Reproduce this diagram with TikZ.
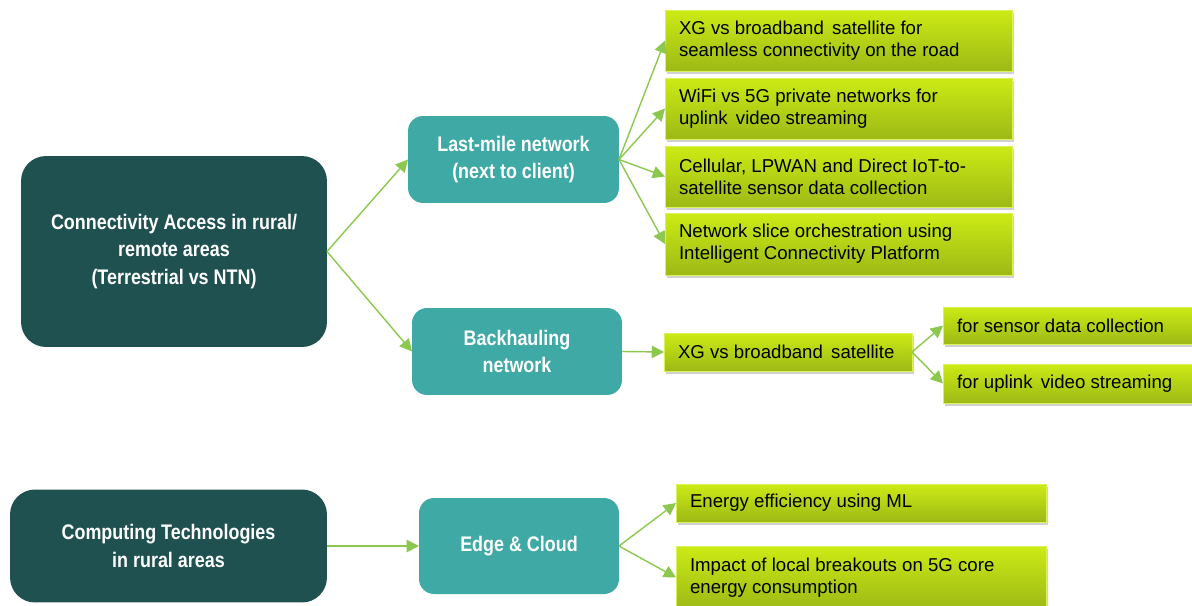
\documentclass[tikz,border=0pt]{standalone}
\usepackage{fontspec}
\setmainfont{Liberation Sans}
\newfontfamily\condfont[FakeStretch=0.85]{Liberation Sans}
\usetikzlibrary{arrows.meta,shadows}

\definecolor{darkteal}{HTML}{1F5150}
\definecolor{midteal}{HTML}{3FA9A6}
\definecolor{limetop}{HTML}{CCEB14}
\definecolor{limebot}{HTML}{9DB916}
\definecolor{arrowgreen}{HTML}{8DC84E}

\begin{document}
\begin{tikzpicture}[x=0.02cm, y=-0.02cm,
  every node/.style={outer sep=0pt},
  topic/.style={fill=darkteal, text=white, rounded corners=0.5cm, align=center,
    font=\condfont\bfseries\fontsize{12}{15.6}\selectfont},
  area/.style={fill=midteal, text=white, rounded corners=0.3cm, align=center,
    font=\condfont\bfseries\fontsize{12}{15.6}\selectfont},
  item/.style={top color=limetop, bottom color=limebot, draw=limetop!70!white, line width=0.4pt,
    drop shadow={shadow xshift=1pt, shadow yshift=-1.5pt, opacity=0.3, fill=black!60},
    align=flush left, inner xsep=0.28cm, inner ysep=0pt, anchor=center,
    font=\fontsize{10.6}{12.5}\selectfont},
  link/.style={draw=arrowgreen, line width=0.8pt, -{Triangle[length=7pt, width=7pt]}}
]
\useasboundingbox (0,0) rectangle (1192,605);

% left column
\node[topic, minimum width=6.12cm, minimum height=3.82cm] (conn) at (174,251.5)
  {Connectivity Access in rural/\\remote areas\\(Terrestrial vs NTN)};
\node[topic, minimum width=6.34cm, minimum height=2.26cm] (comp) at (168.5,546)
  {Computing Technologies\\in rural areas};

% middle column
\node[area, minimum width=4.22cm, minimum height=1.74cm] (lastmile) at (513.5,159.5)
  {Last-mile network\\(next to client)};
\node[area, minimum width=4.2cm, minimum height=1.74cm] (backhaul) at (517,351.5)
  {Backhauling\\network};
\node[area, minimum width=4cm, minimum height=1.92cm] (edgecloud) at (519,546)
  {Edge \& Cloud};

% green items
\node[item, text width=6.38cm, minimum height=1.22cm] (road) at (838.5,40.5)
  {XG vs broadband\, satellite for\\seamless connectivity on the road};
\node[item, text width=6.38cm, minimum height=1.22cm] (wifi) at (838.5,108.5)
  {WiFi vs 5G private networks for\\uplink\, video streaming};
\node[item, text width=6.38cm, minimum height=1.22cm] (lpwan) at (838.5,176.5)
  {Cellular, LPWAN and Direct IoT-to-\\satellite sensor data collection};
\node[item, text width=6.38cm, minimum height=1.24cm] (slice) at (838.5,244)
  {Network slice orchestration using\\Intelligent Connectivity Platform};
\node[item, text width=4.4cm, minimum height=0.76cm] (xgsat) at (788,352)
  {XG vs broadband\, satellite};
\node[item, text width=4.42cm, minimum height=0.74cm] (sensor) at (1067.5,325.5)
  {for sensor data collection};
\node[item, text width=4.42cm, minimum height=0.78cm] (uplink) at (1067.5,383.5)
  {for uplink\, video streaming};
\node[item, text width=6.84cm, minimum height=0.76cm] (energy) at (861,503)
  {Energy efficiency using ML};
\node[item, text width=6.84cm, minimum height=1.26cm] (breakout) at (861,577.5)
  {Impact of local breakouts on 5G core\\energy consumption};

% connectors
\draw[link] (conn.east) -- (lastmile.west);
\draw[link] (conn.east) -- (backhaul.west);
\foreach \n in {road,wifi,lpwan,slice}
  \draw[link] (lastmile.east) -- (\n.west);
\draw[link] (backhaul.east) -- (xgsat.west);
\draw[link] (xgsat.east) -- (sensor.west);
\draw[link] (xgsat.east) -- (uplink.west);
\draw[link] (comp.east) -- (edgecloud.west);
\draw[link] (edgecloud.east) -- (energy.west);
\draw[link] (edgecloud.east) -- (breakout.west);
\end{tikzpicture}
\end{document}
